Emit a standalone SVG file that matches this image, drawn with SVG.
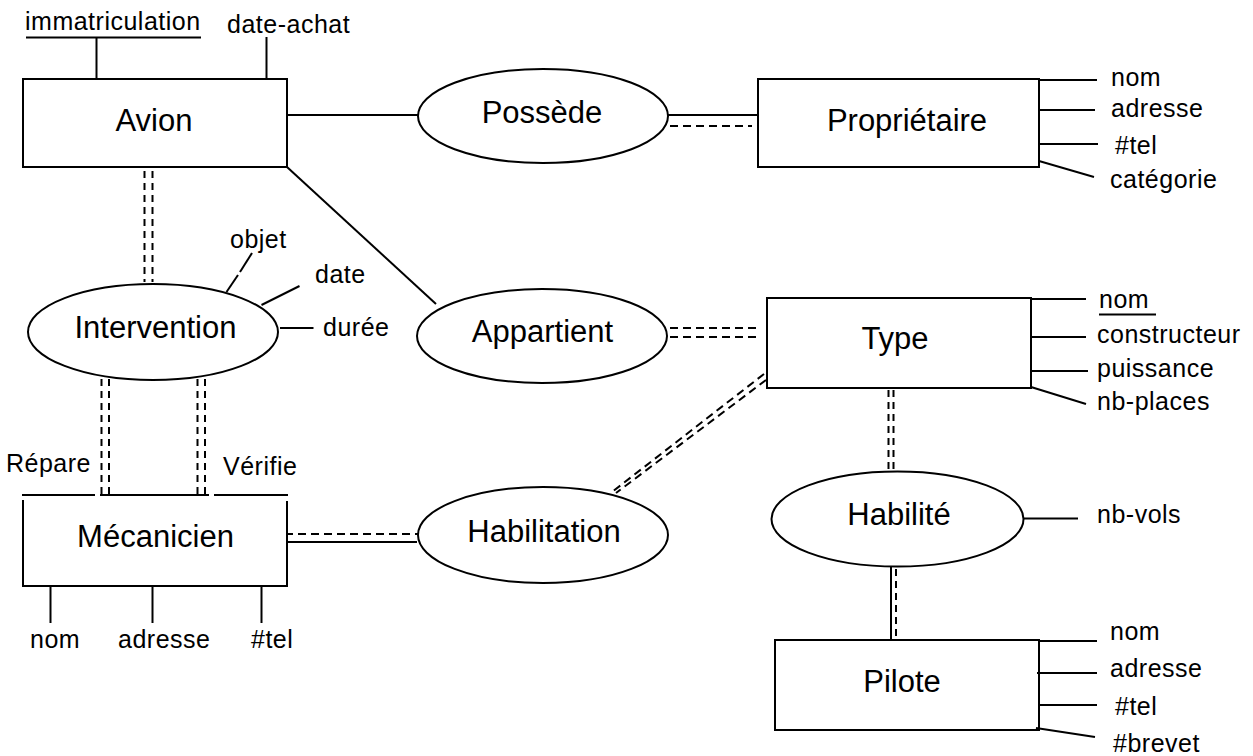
<svg xmlns="http://www.w3.org/2000/svg" width="1253" height="756" viewBox="0 0 1253 756">
<style>
  .box { fill: #fff; stroke: #000; stroke-width: 2; }
  .ell { fill: #fff; stroke: #000; stroke-width: 2; }
  .ln { stroke: #000; stroke-width: 2; fill: none; }
  .dv { stroke: #000; stroke-width: 2; fill: none; stroke-dasharray: 7 5; }
  .dh { stroke: #000; stroke-width: 2; fill: none; stroke-dasharray: 8 5; }
  .lbl { font-family: "Liberation Sans", Arial, sans-serif; font-size: 31px; text-anchor: middle; fill: #000; }
  .att { font-family: "Liberation Sans", Arial, sans-serif; font-size: 25px; letter-spacing: 0.5px; fill: #000; }
</style>
<rect width="1253" height="756" fill="#fff"/>

<g id="connectors">
  <!-- Avion - Possède -->
  <line class="ln" x1="287" y1="115" x2="418" y2="115"/>
  <!-- Possède - Propriétaire -->
  <line class="ln" x1="668" y1="115" x2="758" y2="115"/>
  <line class="dh" x1="670" y1="126" x2="752" y2="126"/>
  <!-- Avion - Appartient -->
  <line class="ln" x1="287" y1="167" x2="436" y2="304"/>
  <!-- Appartient - Type -->
  <line class="dh" x1="670" y1="328" x2="757" y2="328"/>
  <line class="dh" x1="670" y1="337" x2="757" y2="337"/>
  <!-- Avion - Intervention -->
  <line class="dv" x1="144.5" y1="171" x2="144.5" y2="282"/>
  <line class="dv" x1="152.5" y1="171" x2="152.5" y2="282"/>
  <!-- Intervention - Mécanicien (Répare) -->
  <line class="dv" x1="101.5" y1="379" x2="101.5" y2="494"/>
  <line class="dv" x1="109" y1="379" x2="109" y2="494"/>
  <!-- Intervention - Mécanicien (Vérifie) -->
  <line class="dv" x1="197.5" y1="379" x2="197.5" y2="494"/>
  <line class="dv" x1="205" y1="379" x2="205" y2="494"/>
  <!-- Mécanicien - Habilitation -->
  <line class="dh" x1="285" y1="534" x2="418" y2="534"/>
  <line class="ln" x1="287" y1="542" x2="417" y2="542"/>
  <!-- Habilitation - Type -->
  <line class="dh" x1="764" y1="374" x2="612" y2="492"/>
  <line class="dh" x1="766" y1="380" x2="616" y2="493"/>
  <!-- Type - Habilité -->
  <line class="dv" x1="888.5" y1="390" x2="888.5" y2="472"/>
  <line class="dv" x1="893.5" y1="390" x2="893.5" y2="472"/>
  <!-- Habilité - Pilote -->
  <line class="ln" x1="891" y1="567" x2="891" y2="640"/>
  <line class="dv" x1="896" y1="569" x2="896" y2="638"/>
</g>

<g id="avion">
  <rect class="box" x="23" y="79" width="264" height="88"/>
  <text class="lbl" x="154" y="131">Avion</text>
  <line class="ln" x1="96.5" y1="38" x2="96.5" y2="78"/>
  <line class="ln" x1="266.5" y1="37" x2="266.5" y2="78"/>
  <text class="att" x="25" y="30">immatriculation</text>
  <line class="ln" x1="26" y1="37.5" x2="201" y2="37.5"/>
  <text class="att" x="227" y="33">date-achat</text>
</g>

<g id="possede">
  <ellipse class="ell" cx="543" cy="116" rx="125" ry="47"/>
  <text class="lbl" x="542" y="123">Possède</text>
</g>

<g id="proprietaire">
  <rect class="box" x="758" y="79" width="281" height="88"/>
  <text class="lbl" x="907" y="131">Propriétaire</text>
  <line class="ln" x1="1039" y1="80" x2="1097" y2="80"/>
  <line class="ln" x1="1039" y1="110" x2="1095" y2="110"/>
  <line class="ln" x1="1039" y1="144" x2="1098" y2="144"/>
  <line class="ln" x1="1039" y1="161" x2="1094" y2="177"/>
  <text class="att" x="1111" y="86">nom</text>
  <text class="att" x="1111" y="117">adresse</text>
  <text class="att" x="1115" y="154">#tel</text>
  <text class="att" x="1110" y="188">catégorie</text>
</g>

<g id="intervention">
  <ellipse class="ell" cx="153" cy="332" rx="125" ry="48"/>
  <text class="lbl" x="155.5" y="338">Intervention</text>
  <line class="ln" x1="226.5" y1="292" x2="238" y2="275"/>
  <line class="ln" x1="240" y1="272" x2="252" y2="253"/>
  <line class="ln" x1="261.5" y1="305" x2="299.5" y2="286"/>
  <line class="ln" x1="280" y1="328" x2="313.5" y2="328"/>
  <text class="att" x="230" y="248">objet</text>
  <text class="att" x="315" y="283">date</text>
  <text class="att" x="323" y="336">durée</text>
</g>

<g id="appartient">
  <ellipse class="ell" cx="542" cy="336" rx="125" ry="47"/>
  <text class="lbl" x="542.5" y="342">Appartient</text>
</g>

<g id="type">
  <rect class="box" x="767" y="298" width="264" height="90"/>
  <text class="lbl" x="895" y="349">Type</text>
  <line class="ln" x1="1031" y1="299" x2="1086" y2="299"/>
  <line class="ln" x1="1030" y1="337" x2="1086" y2="337"/>
  <line class="ln" x1="1031" y1="371" x2="1088" y2="371"/>
  <line class="ln" x1="1031" y1="387" x2="1086" y2="404"/>
  <text class="att" x="1099" y="308">nom</text>
  <line class="ln" x1="1099" y1="314.5" x2="1156" y2="314.5"/>
  <text class="att" x="1097" y="343">constructeur</text>
  <text class="att" x="1097" y="377">puissance</text>
  <text class="att" x="1097" y="410">nb-places</text>
</g>

<g id="mecanicien">
  <rect x="23" y="495" width="264" height="91" fill="#fff" stroke="none"/>
  <path class="ln" d="M23,500 V586 H287 V501"/>
  <line class="ln" x1="22" y1="495" x2="95" y2="495"/>
  <line class="ln" x1="100" y1="495" x2="209" y2="495"/>
  <line class="ln" x1="214" y1="495" x2="288" y2="495"/>
  <text class="lbl" x="155.5" y="547">Mécanicien</text>
  <line class="ln" x1="50.5" y1="586" x2="50.5" y2="623"/>
  <line class="ln" x1="152.5" y1="586" x2="152.5" y2="623"/>
  <line class="ln" x1="261.5" y1="586" x2="261.5" y2="623"/>
  <text class="att" x="30" y="648">nom</text>
  <text class="att" x="118" y="648">adresse</text>
  <text class="att" x="251" y="648">#tel</text>
  <text class="att" x="6" y="472">Répare</text>
  <text class="att" x="223" y="475">Vérifie</text>
</g>

<g id="habilitation">
  <ellipse class="ell" cx="543" cy="535" rx="125" ry="48"/>
  <text class="lbl" x="544" y="541.5">Habilitation</text>
</g>

<g id="habilite">
  <ellipse class="ell" cx="897.5" cy="519" rx="126" ry="47.5"/>
  <text class="lbl" x="899" y="525">Habilité</text>
  <line class="ln" x1="1023" y1="518.5" x2="1078" y2="518.5"/>
  <text class="att" x="1097" y="523">nb-vols</text>
</g>

<g id="pilote">
  <rect class="box" x="775" y="640" width="264" height="90"/>
  <text class="lbl" x="902" y="692">Pilote</text>
  <line class="ln" x1="1039" y1="641" x2="1097" y2="641"/>
  <line class="ln" x1="1037" y1="673" x2="1097" y2="673"/>
  <line class="ln" x1="1039" y1="705" x2="1097" y2="705"/>
  <line class="ln" x1="1036" y1="728" x2="1095" y2="737"/>
  <text class="att" x="1110" y="640">nom</text>
  <text class="att" x="1110" y="677">adresse</text>
  <text class="att" x="1115" y="715">#tel</text>
  <text class="att" x="1113" y="752">#brevet</text>
</g>
</svg>
